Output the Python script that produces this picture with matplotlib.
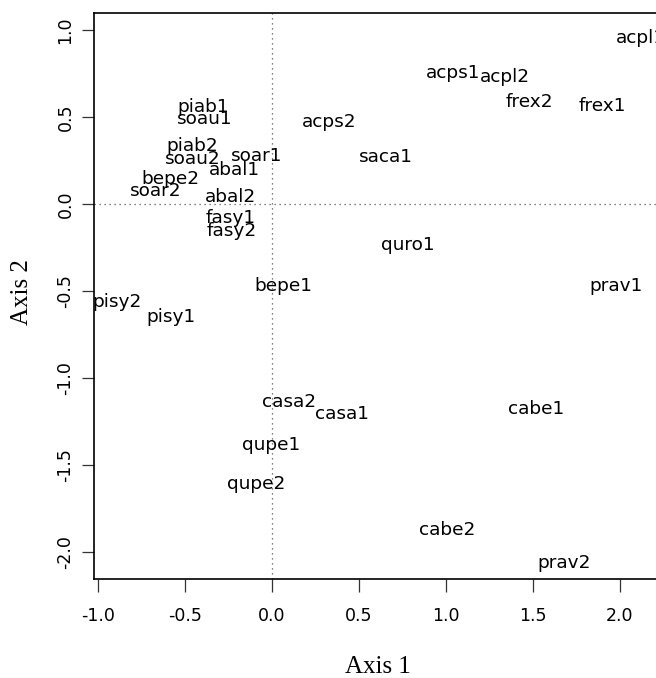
import matplotlib
matplotlib.use('Agg')
import matplotlib.pyplot as plt

# site scores on the first two axes
labels = ['acpl1', 'acps1', 'acpl2', 'frex2', 'frex1', 'saca1', 'acps2',
          'piab1', 'soau1', 'piab2', 'soau2', 'soar1', 'abal1', 'bepe2',
          'soar2', 'abal2', 'fasy1', 'fasy2', 'quro1', 'bepe1', 'prav1',
          'pisy2', 'pisy1', 'casa2', 'casa1', 'qupe1', 'qupe2', 'cabe1',
          'cabe2', 'prav2']
axis1 = [2.12, 1.04, 1.34, 1.48, 1.90, 0.655, 0.328,
         -0.397, -0.385, -0.46, -0.454, -0.086, -0.213, -0.586,
         -0.667, -0.236, -0.236, -0.23, 0.78, 0.063, 1.98,
         -0.89, -0.58, 0.098, 0.40, -0.006, -0.092, 1.52,
         1.006, 1.68]
axis2 = [0.954, 0.753, 0.733, 0.586, 0.563, 0.27, 0.471,
         0.557, 0.488, 0.333, 0.259, 0.276, 0.195, 0.144,
         0.075, 0.04, -0.08, -0.155, -0.236, -0.47, -0.47,
         -0.563, -0.65, -1.138, -1.207, -1.385, -1.609, -1.178,
         -1.874, -2.063]

xticks = [-1.0, -0.5, 0.0, 0.5, 1.0, 1.5, 2.0]
yticks = [-2.0, -1.5, -1.0, -0.5, 0.0, 0.5, 1.0]

SANS = 'DejaVu Sans'
SERIF = 'Liberation Serif'

fig = plt.figure(figsize=(6.56, 6.78), dpi=100)
ax = fig.add_axes([94 / 656, 99 / 678, 566 / 656, 566 / 678])
ax.set_xlim(-1.023, 2.230)
ax.set_ylim(-2.155, 1.098)

ax.axvline(0, color='#555555', linestyle=(0, (1, 3)), linewidth=0.9, zorder=1)
ax.axhline(0, color='#555555', linestyle=(0, (1, 3)), linewidth=0.9, zorder=1)

for lab, x, y in zip(labels, axis1, axis2):
    ax.text(x, y, lab, ha='center', va='center', fontsize=13.3,
            family=SANS, color='black', clip_on=False)

for s in ax.spines.values():
    s.set_linewidth(1.2)
    s.set_color('black')

ax.set_xticks(xticks)
ax.set_xticklabels([f'{v:.1f}' for v in xticks], family=SANS, fontsize=12.5)
ax.set_yticks(yticks)
ax.set_yticklabels([f'{v:.1f}' for v in yticks], family=SANS, fontsize=12.5,
                   rotation=90, va='center')
ax.tick_params(axis='both', direction='out', length=9, width=0.9, color='#333333')
ax.tick_params(axis='x', pad=11)
ax.tick_params(axis='y', pad=5)

fig.text(378 / 656, 1 - 667 / 678, 'Axis 1', ha='center', va='center',
         family=SERIF, fontsize=18)
fig.text(22 / 656, 1 - 292 / 678, 'Axis 2', ha='center', va='center',
         family=SERIF, fontsize=18, rotation=90)

fig.savefig('out.png', dpi=100)
plt.close(fig)
